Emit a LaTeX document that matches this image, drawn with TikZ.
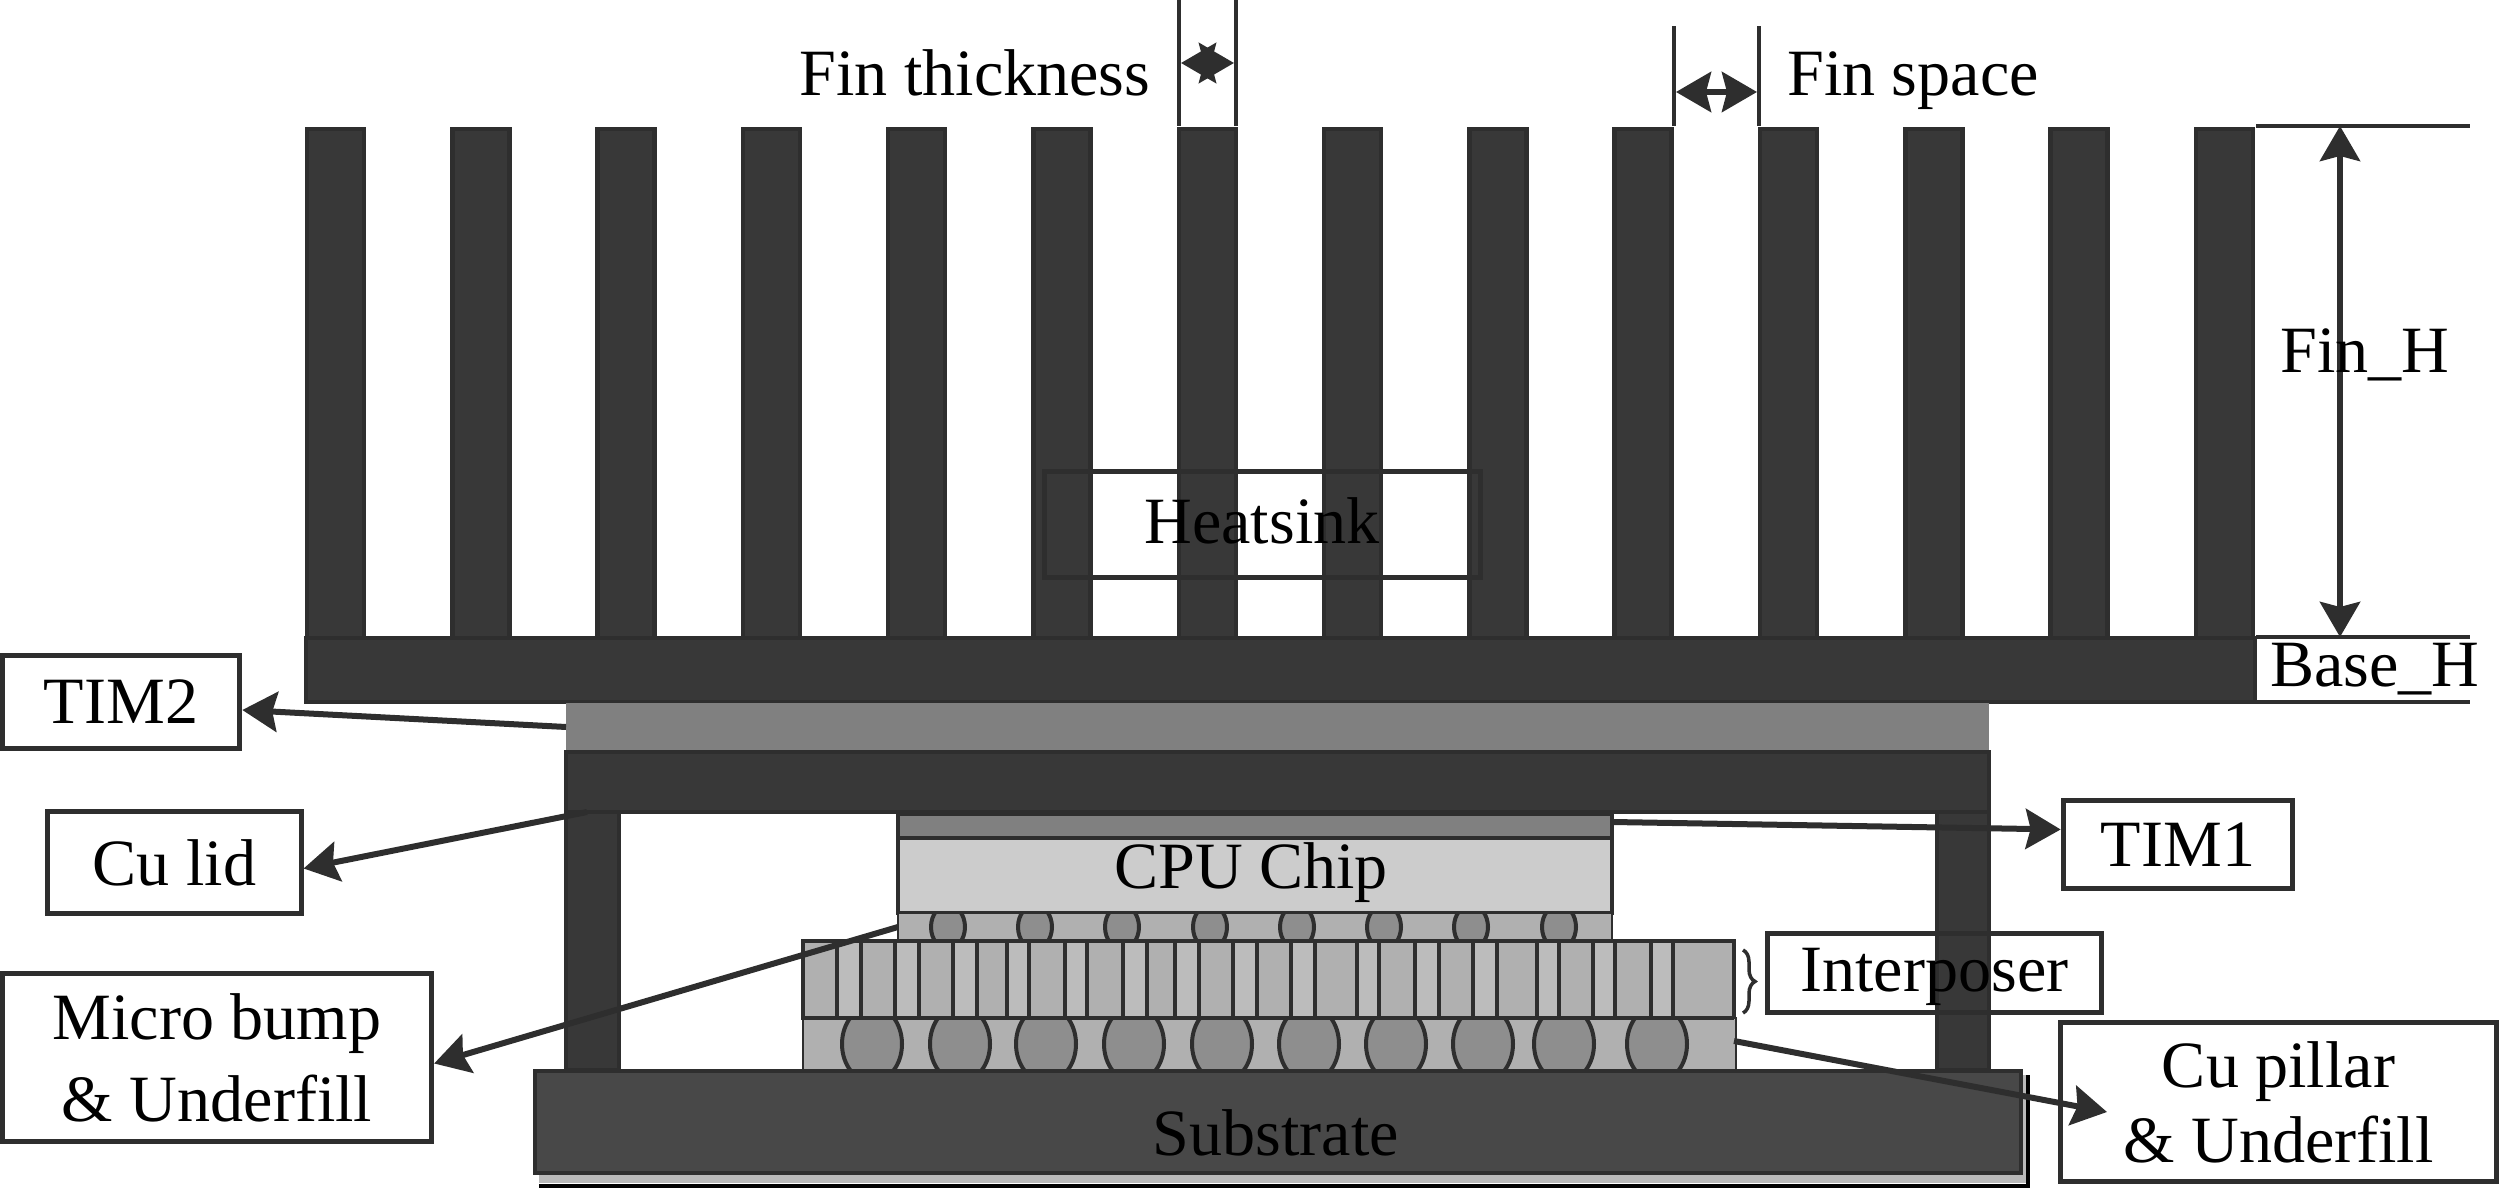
\documentclass[tikz,border=0pt]{standalone}
\usepackage{fontspec}
\setmainfont{Liberation Serif}
\usetikzlibrary{arrows.meta,decorations.pathreplacing}

\definecolor{edgegray}{HTML}{2E2E2E}
\definecolor{fingray}{HTML}{383838}
\definecolor{timgray}{HTML}{808080}
\definecolor{chipgray}{HTML}{CCCCCC}
\definecolor{fillgray}{HTML}{B0B0B0}
\definecolor{viagray}{HTML}{BCBCBC}
\definecolor{bumpgray}{HTML}{8E8E8E}
\definecolor{subgray}{HTML}{484848}

\tikzset{
  layer/.style={draw=edgegray,line width=0.045cm},
  label/.style={inner sep=0pt,anchor=base,font=\fontsize{18.8}{23.3}\selectfont},
  box/.style={draw=edgegray,line width=0.05cm,inner sep=0pt,align=center,
    font=\fontsize{18.8}{23.3}\selectfont},
  pointer/.style={->,draw=edgegray,line width=0.06cm},
  dimline/.style={draw=edgegray,line width=0.04cm},
  bump/.style={draw=edgegray,fill=bumpgray,line width=0.04cm}
}

\begin{document}
\begin{tikzpicture}[x=0.01cm,y=-0.01cm,
  >={Stealth[length=0.35cm,width=0.4cm,inset=0.05cm]}]

\useasboundingbox (0,0) rectangle (2499,1189);

% heatsink
\foreach \i in {0,...,13}
  \draw [layer,fill=fingray] ({307+145.3*\i},129) rectangle ({364+145.3*\i},640);
\draw [layer,fill=fingray] (306,638) rectangle (2255,702);

% lid and TIM2
\draw [layer,fill=fingray] (566,752) rectangle (1989,812);
\draw [layer,fill=fingray] (566,812) rectangle (619,1070);
\draw [layer,fill=fingray] (1937,812) rectangle (1989,1070);
\draw [draw=none,fill=timgray] (566,703) rectangle (1989,750);

% chip stack
\draw [layer,fill=timgray] (898,814) rectangle (1612,838);
\draw [layer,fill=chipgray] (898,838) rectangle (1612,913);
\draw [layer,fill=fillgray,line width=0.02cm] (898,913) rectangle (1612,941);
\begin{scope}
\clip (898,915) rectangle (1612,941);
\foreach \x in {948,1035,1122,1210,1297,1384,1471,1559}
  \draw [bump] (\x,927) ellipse (17 and 22);
\end{scope}

% interposer
\draw [draw=none,fill=fillgray] (803,941) rectangle (1734,1018);
\foreach \a/\b in {837/861,895/919,953/977,1007/1029,1065/1087,1123/1147,1175/1199,1233/1257,
    1291/1315,1357/1379,1415/1439,1473/1497,1537/1559,1593/1615,1651/1673}{
  \draw [draw=none,fill=viagray] (\a,941) rectangle (\b,1018);
  \draw [layer] (\a,941) -- (\a,1018);
  \draw [layer] (\b,941) -- (\b,1018);
}
\draw [layer] (803,941) rectangle (1734,1018);

% Cu pillars
\draw [layer,fill=fillgray,line width=0.02cm] (803,1018) rectangle (1736,1070);
\begin{scope}
\clip (803,1018) rectangle (1736,1070);
\foreach \x in {872,960,1046,1134,1222,1309,1396,1483,1564,1657}
  \draw [bump] (\x,1044) ellipse (30 and 38);
\end{scope}
\draw [layer] (803,1018) -- (1734,1018);

% substrate
\draw [draw=none,fill=gray!55] (539,1173) rectangle (2027,1183);
\draw [draw=none,fill=gray!55] (2021,1075) rectangle (2027,1183);
\draw [black,line width=0.04cm] (539,1186) -- (2028,1186) -- (2028,1075);
\draw [layer,fill=subgray] (535,1071) rectangle (2021,1173);

% labels on the stack
\node [label] (cpulabel) at (1251,889) {CPU Chip};
\node [label] (sublabel) at (1276,1156) {Substrate};
\node [box,minimum width=4.35cm,minimum height=1.05cm] (sinkbox) at (1262.5,524.5) {};
\node [label] (sinklabel) at (1262,544) {Heatsink};

% boxes
\node [box,minimum width=2.375cm,minimum height=0.93cm] (timtwobox) at (121,702) {TIM2};
\node [box,minimum width=2.53cm,minimum height=1.01cm] (lidbox) at (174.5,862.5) {Cu lid};
\node [box,minimum width=4.29cm,minimum height=1.68cm] (microbox) at (217,1057.5) {Micro bump\\\& Underfill};
\node [box,minimum width=2.295cm,minimum height=0.88cm] (timonebox) at (2178,844.5) {TIM1};
\node [box,text depth=2pt,minimum width=3.34cm,minimum height=0.79cm] (interbox) at (1934.5,973) {Interposer};
\node [box,minimum width=4.36cm,minimum height=1.59cm] (pillarbox) at (2278.5,1102) {Cu pillar\\[-2pt]\& Underfill};

% pointers
\coordinate (timtwoend) at (566,727);
\coordinate (lidend) at (587,812);
\coordinate (microend) at (898,927);
\coordinate (timoneend) at (1612,822);
\coordinate (pillarend) at (1734,1041);
\coordinate (pillartip) at (2107,1112);
\draw [pointer] (timtwoend) -- ([yshift=-0.08cm]timtwobox.east);
\draw [pointer] (lidend) -- ([yshift=-0.06cm]lidbox.east);
\draw [pointer] (microend) -- ([yshift=-0.06cm]microbox.east);
\draw [pointer] (timoneend) -- ([yshift=0.15cm]timonebox.west);
\draw [pointer] (pillarend) -- (pillartip);

% interposer brace
\coordinate (bracetop) at (1743,950);
\coordinate (bracebottom) at (1743,1013);
\draw [draw=edgegray,line width=0.035cm,decorate,decoration={brace,amplitude=0.12cm}] (bracetop) -- (bracebottom);

% fin thickness
\coordinate (thicka) at (1179,126);
\coordinate (thickat) at (1179,0);
\coordinate (thickb) at (1236,126);
\coordinate (thickbt) at (1236,0);
\coordinate (thickl) at (1181,63);
\coordinate (thickr) at (1234,63);
\draw [dimline] (thicka) -- (thickat);
\draw [dimline] (thickb) -- (thickbt);
\draw [pointer,<->] (thickl) -- (thickr);
\node [label] (thicklabel) at (975,96) {Fin thickness};

% fin space
\coordinate (spacea) at (1674,126);
\coordinate (spaceat) at (1674,26);
\coordinate (spaceb) at (1759,126);
\coordinate (spacebt) at (1759,26);
\coordinate (spacel) at (1676,92);
\coordinate (spacer) at (1757,92);
\draw [dimline] (spacea) -- (spaceat);
\draw [dimline] (spaceb) -- (spacebt);
\draw [pointer,<->] (spacel) -- (spacer);
\node [label] (spacelabel) at (1913,96) {Fin space};

% heights
\coordinate (topl) at (2256,126);
\coordinate (topr) at (2470,126);
\coordinate (midl) at (2256,637);
\coordinate (midr) at (2470,637);
\coordinate (lowl) at (2256,702);
\coordinate (lowr) at (2470,702);
\coordinate (finhtop) at (2340,126);
\coordinate (finhbottom) at (2340,637);
\draw [dimline] (topl) -- (topr);
\draw [dimline] (midl) -- (midr);
\draw [dimline] (lowl) -- (lowr);
\draw [pointer,<->] (finhtop) -- (finhbottom);
\node [label] (finhlabel) at (2365,373) {Fin\_H};
\node [label] (basehlabel) at (2375,687) {Base\_H};

\end{tikzpicture}
\end{document}
